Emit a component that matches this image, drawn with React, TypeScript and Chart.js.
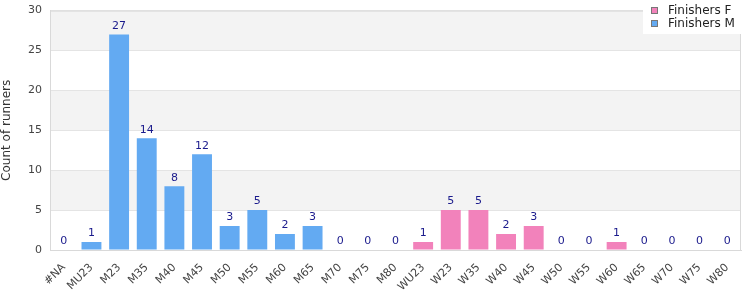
import React, { useEffect, useRef } from "react";
import { Chart, registerables } from "chart.js";

Chart.register(...registerables);

const categories = ["#NA", "MU23", "M23", "M35", "M40", "M45", "M50", "M55", "M60", "M65", "M70", "M75", "M80", "WU23", "W23", "W35", "W40", "W45", "W50", "W55", "W60", "W65", "W70", "W75", "W80"];
const finishersF = [null, null, null, null, null, null, null, null, null, null, null, null, null, 1, 5, 5, 2, 3, 0, 0, 1, 0, 0, 0, 0];
const finishersM = [0, 1, 27, 14, 8, 12, 3, 5, 2, 3, 0, 0, 0, null, null, null, null, null, null, null, null, null, null, null, null];
const yTicks = [0, 5, 10, 15, 20, 25, 30];

const FONT = "'DejaVu Sans', Verdana, sans-serif";
const colorF = "#f282bb";
const colorM = "#63aaf2";
const SHIFT = 4;

export default function App() {
  const ref = useRef<HTMLCanvasElement>(null);
  useEffect(() => {
    document.body.style.margin = "0";
    const bands = {
      id: "bands",
      beforeDraw(chart: any) {
        const { ctx, chartArea, scales } = chart;
        const y = scales.y;
        ctx.save();
        for (let i = 0; i < yTicks.length - 1; i++) {
          const top = y.getPixelForValue(yTicks[i + 1]);
          const bot = y.getPixelForValue(yTicks[i]);
          ctx.fillStyle = i % 2 === 1 ? "#f3f3f3" : "#ffffff";
          ctx.fillRect(chartArea.left, top, chartArea.right - chartArea.left, bot - top);
        }
        ctx.restore();
      },
      afterDraw(chart: any) {
        const { ctx, chartArea, scales } = chart;
        ctx.save();
        ctx.strokeStyle = "#d9d9d9";
        ctx.lineWidth = 1;
        ctx.strokeRect(chartArea.left + 0.5, chartArea.top + 0.5, chartArea.right - chartArea.left - 1, chartArea.bottom - chartArea.top);
        // data labels
        ctx.fillStyle = "#1a1a8c";
        ctx.font = "11px " + FONT;
        ctx.textAlign = "center";
        ctx.textBaseline = "bottom";
        chart.data.datasets.forEach((ds: any, di: number) => {
          const meta = chart.getDatasetMeta(di);
          ds.data.forEach((v: any, i: number) => {
            if (v === null) return;
            const el = meta.data[i];
            ctx.fillText(String(v), el.x, scales.y.getPixelForValue(v) - 3);
          });
        });
        // legend
        const lx = 643, ly = SHIFT, lw = 98, lh = 34;
        ctx.fillStyle = "#ffffff";
        ctx.fillRect(lx, ly, lw, lh);
        const items = [["Finishers F", colorF], ["Finishers M", colorM]];
        items.forEach((it, k) => {
          const cy = ly + 10 + k * 13;
          ctx.fillStyle = it[1];
          ctx.fillRect(lx + 8, cy - 3, 7, 7);
          ctx.strokeStyle = "#777";
          ctx.strokeRect(lx + 8.5, cy - 2.5, 6, 6);
          ctx.fillStyle = "#222";
          ctx.font = "12px " + FONT;
          ctx.textAlign = "left";
          ctx.textBaseline = "middle";
          ctx.fillText(it[0], lx + 25, cy + 1);
        });
        ctx.restore();
      },
    };
    const chart = new Chart(ref.current!, {
      type: "bar",
      data: {
        labels: categories,
        datasets: [
          { label: "Finishers F", data: finishersF as any, backgroundColor: colorF, barPercentage: 0.72, categoryPercentage: 1 },
          { label: "Finishers M", data: finishersM as any, backgroundColor: colorM, barPercentage: 0.72, categoryPercentage: 1 },
        ],
      },
      options: {
        animation: false,
        responsive: false,
        layout: { padding: { top: 5, right: 9, left: 0, bottom: 0 } },
        plugins: { legend: { display: false }, tooltip: { enabled: false } },
        scales: {
          x: {
            stacked: true,
            grid: { display: false },
            border: { color: "#d9d9d9" },
            ticks: { color: "#444", font: { family: FONT, size: 11 }, minRotation: 45, maxRotation: 45, autoSkip: false, padding: 3 },
            afterFit(s: any) { s.height = 50; },
          },
          y: {
            stacked: true,
            min: 0,
            max: 30,
            grid: { color: "#e4e4e4", drawTicks: false },
            border: { color: "#d9d9d9" },
            ticks: { stepSize: 5, color: "#444", font: { family: FONT, size: 11 }, padding: 8 },
            title: { display: true, text: "Count of runners", color: "#333", font: { family: FONT, size: 12 }, padding: 0 },
            afterFit(s: any) { s.width = 50; },
          },
        },
      },
      plugins: [bands],
    });
    return () => chart.destroy();
  }, []);
  return (
    <div style={{ position: "absolute", left: 0, top: -SHIFT, width: 750, height: 300 + SHIFT, overflow: "hidden" }}>
      <canvas ref={ref} width={750} height={300 + SHIFT} style={{ width: 750, height: 300 + SHIFT }} />
    </div>
  );
}
